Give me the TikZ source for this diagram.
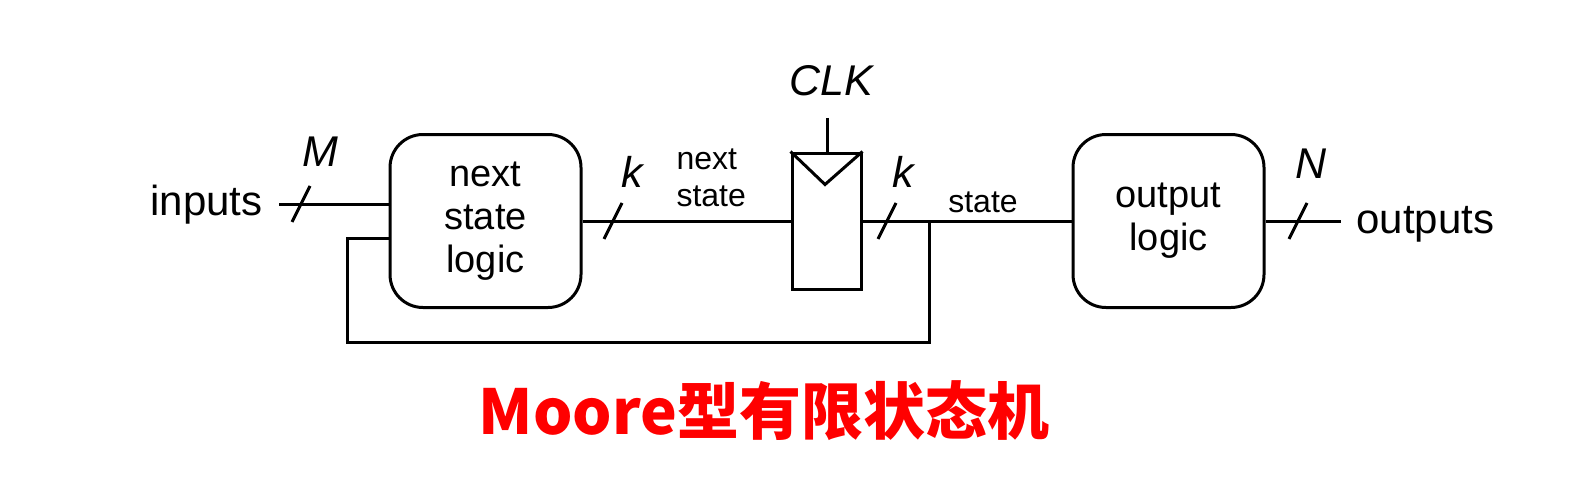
\documentclass[tikz,border=0pt]{standalone}
\usepackage{fontspec}
\setmainfont{Liberation Sans}
\newfontfamily\cjk{Noto Sans CJK SC}
\begin{document}
\begin{tikzpicture}[x=1pt,y=-1pt, line width=3pt,
  blk/.style={draw, rounded corners=33pt, minimum width=191pt, minimum height=173pt, align=center, font=\fontsize{38}{43}\selectfont, inner sep=0pt},
  regbox/.style={draw, minimum width=69pt, minimum height=136pt, inner sep=0pt},
  lbl/.style={font=\fontsize{42}{48}\selectfont, inner sep=0pt},
  var/.style={font=\fontsize{43}{48}\selectfont\itshape, inner sep=0pt},
  sml/.style={font=\fontsize{32}{37}\selectfont, inner sep=0pt, align=left},
  ttl/.style={font=\cjk\bfseries\fontsize{62}{68}\selectfont, text=red, inner sep=0pt}
]
\useasboundingbox (0,0) rectangle (1594,484);
% blocks
\node[blk] (nsl) at (485.5,221) {next\\state\\logic};
\node[regbox] (ff) at (826.5,221) {};
\node[blk] (ol) at (1168.5,221) {output\\logic};
% texts
\node[lbl, anchor=base east] (in) at (264,215) {inputs};
\node[lbl, anchor=base west] (out) at (1355,233) {outputs};
\node[var] (M) at (320,152) {M};
\node[var] (k1) at (632,172) {k};
\node[var] (k2) at (903,172) {k};
\node[var] (N) at (1311,164) {N};
\node[var] (clk) at (831,81) {CLK};
\node[sml, anchor=south west] (ns) at (675,208) {next\\state};
\node[sml, anchor=base] (st) at (983,212) {state};
\node[ttl] (title) at (764,411) {Moore型有限状态机};
% coordinates
\coordinate (inA) at (279,204);
\coordinate (j) at (929,221);
\coordinate (fb1) at (929,342);
\coordinate (fb2) at (347,342);
\coordinate (fb3) at (347,238);
\coordinate (clkA) at (827,118);
\coordinate (outA) at (1341,221);
% wires
\draw (inA) -- (inA -| nsl.west);
\draw (nsl.east) -- (nsl.east -| ff.west);
\draw (ff.east) -- (ol.west);
\draw (ol.east) -- (outA);
\draw (j) -- (fb1) -- (fb2) -- (fb3) -- (fb3 -| nsl.west);
\draw (clkA) -- (clkA |- ff.north);
\draw (ff.north west) -- ++(34.5,33) -- (ff.north east);
% bus slashes
\foreach \p in {(301,204),(613,221),(887,221),(1298,221)}
  \draw \p ++(-9,18) -- ++(18,-36);
\end{tikzpicture}
\end{document}
